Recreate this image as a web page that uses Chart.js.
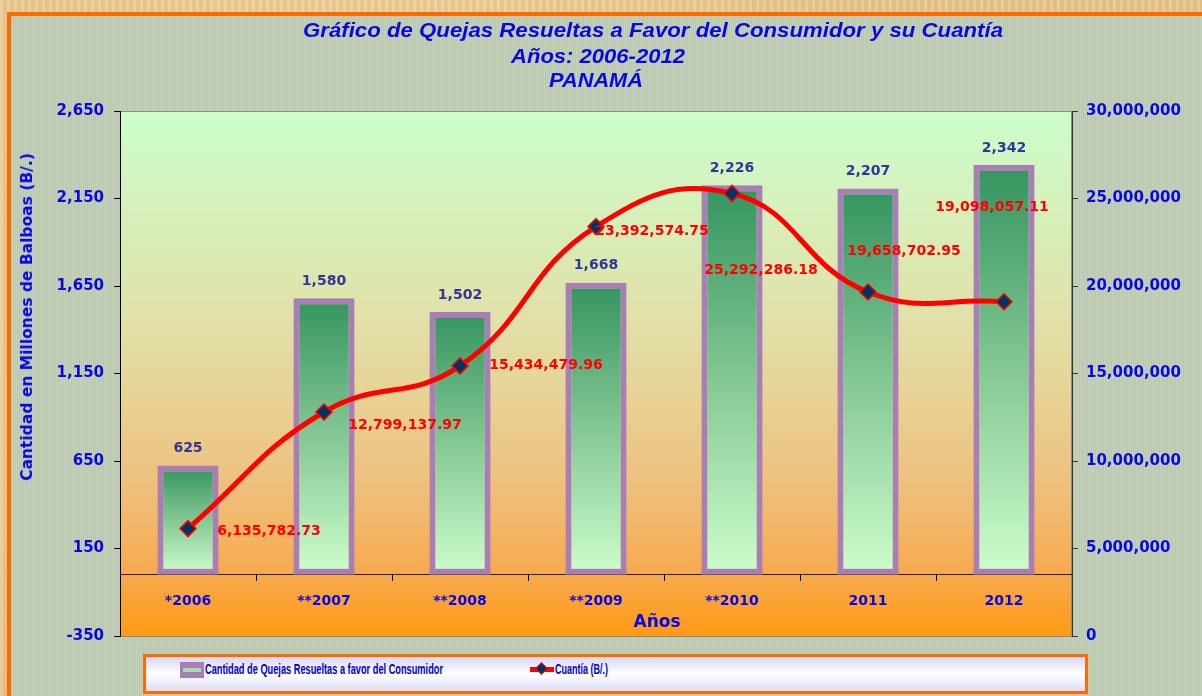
<!DOCTYPE html>
<html lang="es">
<head>
<meta charset="utf-8">
<title>Quejas Resueltas a Favor del Consumidor - Panamá</title>
<script src="https://cdn.jsdelivr.net/npm/chart.js@4.4.1/dist/chart.umd.min.js"></script>
<style>
  html, body { margin: 0; padding: 0; }
  body {
    width: 1202px; height: 696px; overflow: hidden; position: relative;
    background-color: #e6c68b;
    background-image:
      repeating-linear-gradient(90deg, rgba(255,255,255,0.10) 0 3px, rgba(120,80,20,0.06) 3px 7px),
      radial-gradient(circle at 30% 40%, #f0d7a2 0, rgba(240,215,162,0) 60%);
  }
  #marco {
    position: absolute; left: 7px; top: 12px; width: 1220px; height: 720px;
    box-sizing: border-box; border: 4px solid #ff6a00;
    background: repeating-linear-gradient(90deg, #b9c7af 0px, #b9c7af 1px, #c5d1bb 1px, #c5d1bb 2px);
  }
  #grafico { position: absolute; left: 0; top: 0; }
  .texto { position: absolute; white-space: nowrap; color: #0808e6; line-height: 22px; }
  .titulo { font: italic bold 20px "Liberation Sans", Arial, sans-serif; transform-origin: center; }
  #ejeY {
    font: bold 15.5px "DejaVu Sans", sans-serif;
    transform: translate(-50%, -50%) rotate(-90deg);
  }
  #ejeX { font: bold 17px "DejaVu Sans", sans-serif; transform: translate(-50%, -50%); }
  #leyenda {
    position: absolute; left: 143px; top: 654px; width: 945px; height: 40px;
    box-sizing: border-box; border: 3px solid #ff6a00;
    background: linear-gradient(180deg, #d6d6f4 0%, #ffffff 50%, #dcdcf6 100%);
  }
  .simbolo-barra {
    position: absolute; left: 34px; top: 5px; width: 24px; height: 16px;
    background: #a97db5;
  }
  .simbolo-barra::after {
    content: ""; position: absolute; left: 3px; right: 3px; top: 6px; height: 4px;
    background: #9ee0a8;
  }
  .simbolo-linea {
    position: absolute; left: 384px; top: 10px; width: 24px; height: 5px; background: #ff0000;
  }
  .simbolo-linea::after {
    content: ""; position: absolute; left: 7px; top: -3px; width: 9px; height: 9px;
    background: #003366; border: 1px solid #ff0000; box-sizing: border-box; transform: rotate(45deg);
  }
  .leyenda-texto {
    position: absolute; top: 3px; line-height: 20px; color: #0000d0;
    font: bold 15px "Liberation Sans Narrow", "Liberation Sans", Arial, sans-serif;
    transform-origin: left center; white-space: nowrap;
  }
</style>
</head>
<body>
<div id="marco"></div>
<canvas id="grafico" width="1202" height="696"></canvas>

<div class="texto titulo" data-ancho="700" style="left:653px; top:19px;">Gráfico de Quejas Resueltas a Favor del Consumidor y su Cuantía</div>
<div class="texto titulo" data-ancho="174" style="left:598px; top:45px;">Años: 2006-2012</div>
<div class="texto titulo" data-ancho="94" style="left:596px; top:69px;">PANAMÁ</div>
<div class="texto" id="ejeY" style="left:27px; top:317px;">Cantidad en Millones de Balboas (B/.)</div>
<div class="texto" id="ejeX" style="left:657px; top:621px;">Años</div>

<div id="leyenda">
  <span class="simbolo-barra"></span>
  <span class="leyenda-texto" data-ancho="238" style="left:59px;">Cantidad de Quejas Resueltas a favor del Consumidor</span>
  <span class="simbolo-linea"></span>
  <span class="leyenda-texto" data-ancho="53" style="left:409px;">Cuantía (B/.)</span>
</div>

<script>
// datos
const anios = ['*2006', '**2007', '**2008', '**2009', '**2010', '2011', '2012'];
const quejasResueltas = [625, 1580, 1502, 1668, 2226, 2207, 2342];
const cuantia = [6135782.73, 12799137.97, 15434479.96, 23392574.75, 25292286.18, 19658702.95, 19098057.11];
const ticksIzquierda = [-350, 150, 650, 1150, 1650, 2150, 2650];
const ticksDerecha = [0, 5000000, 10000000, 15000000, 20000000, 25000000, 30000000];

// desplazamiento de las etiquetas rojas respecto a cada punto (px)
const desfaseCuantia = [[81, 3], [81, 13], [86, -1], [56, 5], [29, 77], [36, -41], [-12, -94]];

const azul = '#0808e6';
const fuenteEje = { family: 'DejaVu Sans', weight: 'bold', size: 15 };

// estirar / comprimir textos html al ancho que tienen en el original
document.querySelectorAll('.leyenda-texto').forEach((el) => {
  const ancho = el.getBoundingClientRect().width;
  el.style.transform = `scaleX(${Number(el.dataset.ancho) / ancho})`;
});
document.querySelectorAll('.titulo').forEach((el) => {
  const ancho = el.getBoundingClientRect().width;
  el.style.transform = `translateX(-50%) scaleX(${Number(el.dataset.ancho) / ancho})`;
});

// fondo degradado del área de trazado
const fondoArea = {
  id: 'fondoArea',
  beforeDraw: (chart) => {
    const { ctx, chartArea: { left, top, right, bottom } } = chart;
    ctx.save();
    const g = ctx.createLinearGradient(0, top, 0, bottom);
    g.addColorStop(0, '#ccfecc');
    g.addColorStop(0.42, '#e2dfa6');
    g.addColorStop(0.72, '#efbf7c');
    g.addColorStop(0.88, '#f7aa4e');
    g.addColorStop(1, '#ff9a14');
    ctx.fillStyle = g;
    ctx.fillRect(left, top, right - left, bottom - top);
    ctx.strokeStyle = '#8a8a8a';
    ctx.lineWidth = 1;
    ctx.strokeRect(left + 0.5, top + 0.5, right - left - 1, bottom - top);
    ctx.restore();
  },
};

// valores sobre las barras y sobre la línea
const etiquetas = {
  id: 'etiquetas',
  afterDatasetsDraw: (chart) => {
    const { ctx } = chart;
    ctx.save();
    ctx.font = 'bold 14px "DejaVu Sans"';
    ctx.textAlign = 'center';
    ctx.textBaseline = 'middle';

    const barras = chart.getDatasetMeta(0).data;
    ctx.fillStyle = '#333399';
    barras.forEach((bar, i) => {
      ctx.fillText(quejasResueltas[i].toLocaleString('en-US'), bar.x, bar.y - 17);
    });

    const puntos = chart.getDatasetMeta(1).data;
    ctx.fillStyle = '#ff0000';
    puntos.forEach((p, i) => {
      const texto = cuantia[i].toLocaleString('en-US', { minimumFractionDigits: 2, maximumFractionDigits: 2 });
      ctx.fillText(texto, p.x + desfaseCuantia[i][0], p.y + desfaseCuantia[i][1]);
    });
    ctx.restore();
  },
};

new Chart(document.getElementById('grafico'), {
  type: 'bar',
  data: {
    labels: anios,
    datasets: [
      {
        type: 'bar',
        label: 'Cantidad de Quejas Resueltas a favor del Consumidor',
        data: quejasResueltas,
        yAxisID: 'y',
        backgroundColor: (c) => {
          const chart = c.chart;
          if (!chart.chartArea || c.raw === undefined) return '#7cc596';
          const y = chart.scales.y;
          const g = chart.ctx.createLinearGradient(0, y.getPixelForValue(c.raw), 0, y.getPixelForValue(0));
          g.addColorStop(0, '#33945f');
          g.addColorStop(0.5, '#84c894');
          g.addColorStop(1, '#cdfdcd');
          return g;
        },
        borderColor: '#a97db5',
        borderWidth: 6,
        borderSkipped: false,
        barPercentage: 0.45,
        categoryPercentage: 1,
        order: 2,
      },
      {
        type: 'line',
        label: 'Cuantía (B/.)',
        data: cuantia,
        yAxisID: 'y1',
        borderColor: '#ff0000',
        borderWidth: 5,
        tension: 0.45,
        fill: false,
        pointStyle: 'rectRot',
        pointRadius: 8,
        pointBackgroundColor: '#003366',
        pointBorderColor: '#ff0000',
        pointBorderWidth: 1.5,
        order: 1,
      },
    ],
  },
  options: {
    responsive: false,
    animation: false,
    layout: { padding: { top: 111, bottom: 60, left: 0, right: 0 } },
    scales: {
      x: {
        position: { y: 0 },
        offset: true,
        grid: { offset: true, drawOnChartArea: false, tickLength: 6, color: '#000' },
        border: { color: '#222', width: 1 },
        ticks: { color: azul, font: { family: 'DejaVu Sans', weight: 'bold', size: 14 }, padding: 12 },
      },
      y: {
        position: 'left',
        min: -350,
        max: 2650,
        afterBuildTicks: (s) => { s.ticks = ticksIzquierda.map((v) => ({ value: v })); },
        afterFit: (s) => { s.width = 120; },
        grid: { drawOnChartArea: false, tickLength: 6, color: '#000' },
        border: { color: '#000' },
        ticks: { color: azul, font: fuenteEje, padding: 10, callback: (v) => v.toLocaleString('en-US') },
      },
      y1: {
        position: 'right',
        min: 0,
        max: 30000000,
        afterBuildTicks: (s) => { s.ticks = ticksDerecha.map((v) => ({ value: v })); },
        afterFit: (s) => { s.width = 130; },
        grid: { drawOnChartArea: false, tickLength: 6, color: '#333' },
        border: { color: '#333' },
        ticks: { color: azul, font: fuenteEje, padding: 8, callback: (v) => v.toLocaleString('en-US') },
      },
    },
    plugins: {
      legend: { display: false },
      title: { display: false },
      tooltip: { enabled: false },
    },
  },
  plugins: [fondoArea, etiquetas],
});
</script>
</body>
</html>
